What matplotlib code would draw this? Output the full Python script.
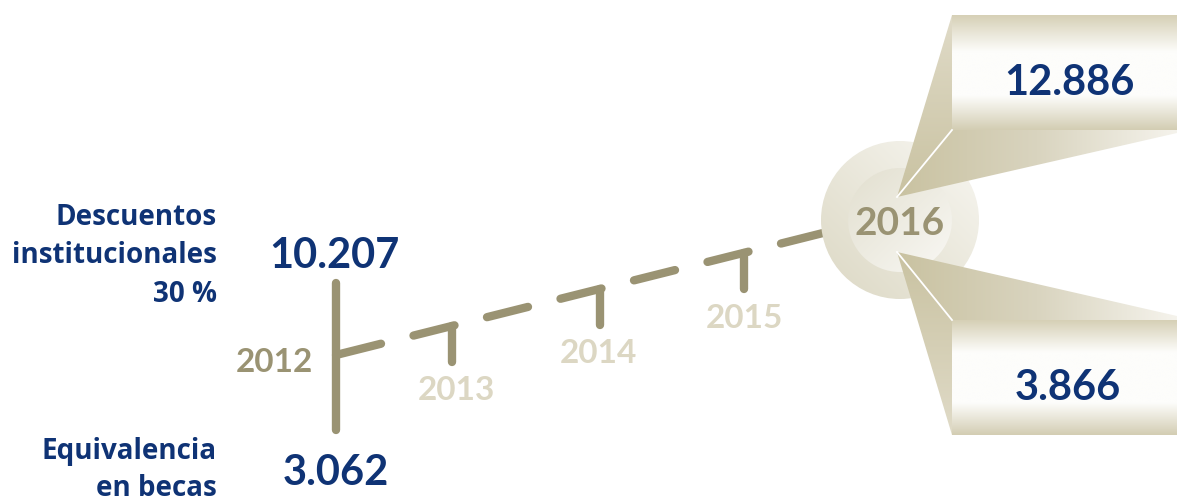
import numpy as np
import matplotlib
matplotlib.use("Agg")
import matplotlib.pyplot as plt
from matplotlib.patches import Polygon, Circle
from matplotlib.colors import to_rgb

# ---------------- data ----------------
years = [2012, 2013, 2014, 2015, 2016]
value_years = [2012, 2016]
descuentos = [10207, 12886]
becas = [3062, 3866]
label_desc = ["Descuentos", "institucionales", "30 %"]
label_becas = ["Equivalencia", "en becas"]

# ---------------- layout / style ----------------
W, H = 1177, 501
FONT = ["Lato", "DejaVu Sans"]
FONT_LBL = ["Open Sans", "DejaVu Sans"]
BLUE = "#0f3375"
TAN = "#9a9373"
LIGHT = "#dcd7c3"
year_x = {2012: 336, 2013: 452, 2014: 600, 2015: 744, 2016: 900}
line_start = (336, 355)
line_end = (827, 232)
slope = (line_end[1] - line_start[1]) / (line_end[0] - line_start[0])
LW = 6.0


def fmt(v):
    return f"{v:,}".replace(",", ".")


def line_y(x):
    return line_start[1] + slope * (x - line_start[0])


def gradient(ax, x0, x1, y0, y1, stops, vec, clip=None, z=1):
    n = 220
    X, Y = np.meshgrid(np.linspace(0, x1 - x0, n), np.linspace(0, y1 - y0, n))
    t = X * vec[0] + Y * vec[1]
    t = (t - t.min()) / (t.max() - t.min())
    ts = [s[0] for s in stops]
    cols = np.array([to_rgb(s[1]) for s in stops])
    img = np.stack([np.interp(t, ts, cols[:, i]) for i in range(3)], axis=-1)
    im = ax.imshow(img, extent=(x0, x1, y0, y1), origin="lower", aspect="auto",
                   zorder=z, interpolation="bilinear")
    if clip is not None:
        ax.add_patch(clip)
        clip.set_facecolor("none")
        clip.set_edgecolor("none")
        im.set_clip_path(clip)
    return im


fig = plt.figure(figsize=(W / 100, H / 100), dpi=100)
ax = fig.add_axes([0, 0, 1, 1])
ax.set_axis_off()

# ---- timeline dashes ----
period = 73.5
dash = 41
k = 0
while True:
    xs = line_start[0] + 4 + k * period
    if xs >= line_end[0]:
        break
    xe = min(xs + dash, line_end[0])
    if k == 0:
        xs = line_start[0]
    ax.plot([xs, xe], [line_y(xs), line_y(xe)], color=TAN, lw=LW,
            solid_capstyle="round", zorder=2)
    k += 1

# 2012 vertical bar
ax.plot([year_x[2012], year_x[2012]], [283, 430], color=TAN, lw=LW,
        solid_capstyle="round", zorder=2)
# ticks for intermediate years
for yr in years[1:-1]:
    x = year_x[yr]
    y0 = line_y(x)
    ax.plot([x, x], [y0, y0 + 36], color=TAN, lw=LW, solid_capstyle="round", zorder=2)

# ---- circle ----
cx, cy = year_x[2016], 220
gradient(ax, cx - 79, cx + 79, cy - 79, cy + 79,
         [(0, "#dcd8c4"), (1, "#f8f7f2")], (1, -1),
         clip=Circle((cx, cy), 79), z=3)
gradient(ax, cx - 52, cx + 52, cy - 52, cy + 52,
         [(0, "#e2dfcf"), (1, "#f9f8f4")], (1, 1),
         clip=Circle((cx, cy), 52), z=3.1)

# ---- beams ----
dark = "#c9c2a1"
mid = "#d9d4bf"
pale = "#e0dbc8"
bx0, bx1 = 952, 1177
# upper beam
p_up = (897, 197)
gradient(ax, 897, bx0, 15, 197, [(0, pale), (1, dark)], (0, 1),
         clip=Polygon([p_up, (bx0, 15), (bx0, 130)]), z=4)
gradient(ax, 897, bx1, 130, 197, [(0, dark), (0.5, mid), (1, "#f5f3ec")], (1, 0),
         clip=Polygon([p_up, (bx0, 130), (bx1, 130), (bx1, 133)]), z=4)
gradient(ax, bx0, bx1, 15, 130,
         [(0, "#d6d0b6"), (0.32, "#fdfdfb"), (0.7, "#fdfdfb"), (1, "#d3cdb3")], (0, 1), z=4)
ax.plot([p_up[0], bx0], [p_up[1], 130], color="white", lw=1.3, zorder=4.5)
# lower beam
p_lo = (897, 252)
gradient(ax, 897, bx1, 252, 320, [(0, dark), (0.5, mid), (1, "#f5f3ec")], (1, 0),
         clip=Polygon([p_lo, (bx1, 316), (bx1, 320), (bx0, 320)]), z=4)
gradient(ax, 897, bx0, 252, 435, [(0, dark), (1, pale)], (0, 1),
         clip=Polygon([p_lo, (bx0, 320), (bx0, 435)]), z=4)
gradient(ax, bx0, bx1, 320, 435,
         [(0, "#d6d0b6"), (0.28, "#fdfdfb"), (0.72, "#fdfdfb"), (1, "#d3cdb3")], (0, 1), z=4)
ax.plot([p_lo[0], bx0], [p_lo[1], 320], color="white", lw=1.3, zorder=4.5)

# ---- texts ----
for txt, yb in zip(label_desc, [225, 263, 302]):
    ax.text(217, yb, txt, ha="right", va="baseline", fontsize=20, fontweight="bold",
            color=BLUE, family=FONT_LBL, zorder=6)
for txt, yb in zip(label_becas, [459, 496]):
    ax.text(217, yb, txt, ha="right", va="baseline", fontsize=20, fontweight="bold",
            color=BLUE, family=FONT_LBL, zorder=6)

ax.text(334, 268, fmt(descuentos[0]), ha="center", va="baseline", fontsize=30,
        fontweight="bold", color=BLUE, family=FONT, zorder=6)
ax.text(336, 485, fmt(becas[0]), ha="center", va="baseline", fontsize=30,
        fontweight="bold", color=BLUE, family=FONT, zorder=6)
ax.text(1069, 95, fmt(descuentos[1]), ha="center", va="baseline", fontsize=30,
        fontweight="bold", color=BLUE, family=FONT, zorder=6)
ax.text(1068, 400, fmt(becas[1]), ha="center", va="baseline", fontsize=30,
        fontweight="bold", color=BLUE, family=FONT, zorder=6)

year_label_pos = {2012: (274, 372), 2013: (456, 400), 2014: (598, 363),
                  2015: (744, 328), 2016: (900, 235)}
for yr in years:
    x, yb = year_label_pos[yr]
    col = TAN if yr in (2012, 2016) else LIGHT
    fs = 28 if yr == 2016 else 24
    ax.text(x, yb, str(yr), ha="center", va="baseline", fontsize=fs,
            fontweight="bold", color=col, family=FONT, zorder=6)

ax.set_xlim(0, W)
ax.set_ylim(H, 0)
fig.savefig("out.png", dpi=100)
